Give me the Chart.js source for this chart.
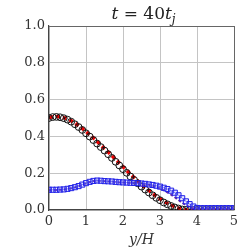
<!DOCTYPE html>
<html>
<head>
<meta charset="utf-8">
<script src="https://cdn.jsdelivr.net/npm/chart.js@4"></script>
<style>
  html, body { margin: 0; padding: 0; background: #fff; }
  #wrap { width: 249px; height: 249px; }
</style>
</head>
<body>
<div id="wrap"><canvas id="c"></canvas></div>
<script>
// y/H positions, step 0.1
const yH = [0.0,0.1,0.2,0.3,0.4,0.5,0.6,0.7,0.8,0.9,1.0,1.1,1.2,1.3,1.4,1.5,1.6,1.7,1.8,1.9,2.0,
  2.1,2.2,2.3,2.4,2.5,2.6,2.7,2.8,2.9,3.0,3.1,3.2,3.3,3.4,3.5,3.6,3.7,3.8,3.9,4.0,
  4.1,4.2,4.3,4.4,4.5,4.6,4.7,4.8,4.9,5.0];

// black open circles
const circleVals = [0.500,0.505,0.506,0.504,0.499,0.491,0.480,0.466,0.451,0.435,0.417,0.399,0.380,0.361,0.342,0.323,0.303,0.283,0.262,0.242,0.222,
  0.202,0.182,0.163,0.145,0.127,0.111,0.095,0.080,0.066,0.053,0.041,0.031,0.022,0.014,0.008,0.003,0.001,0.0,0.0,0.0,
  0.0,0.0,0.0,0.0,0.0,0.0,0.0,0.0,0.0,0.0];

// red dashed line
const redVals = [0.502,0.507,0.508,0.506,0.502,0.495,0.485,0.472,0.458,0.443,0.426,0.409,0.391,0.372,0.353,0.334,0.315,0.295,0.275,0.255,0.235,
  0.215,0.195,0.176,0.157,0.139,0.122,0.106,0.090,0.075,0.061,0.048,0.037,0.027,0.018,0.010,0.004,0.001,0.0,0.0,0.0,
  0.0,0.0,0.0,0.0,0.0,0.0,0.0,0.0,0.0,0.0];

// blue open squares
const squareVals = [0.110,0.110,0.110,0.111,0.112,0.115,0.119,0.124,0.130,0.138,0.146,0.153,0.158,0.160,0.159,0.157,0.156,0.155,0.153,0.151,0.150,
  0.149,0.148,0.147,0.146,0.144,0.142,0.139,0.136,0.132,0.127,0.121,0.114,0.105,0.094,0.080,0.064,0.047,0.032,0.019,0.011,
  0.010,0.010,0.010,0.010,0.010,0.010,0.010,0.010,0.010,0.010];

// purple dashed line
const purpleVals = [0.108,0.108,0.109,0.110,0.111,0.114,0.118,0.123,0.129,0.137,0.145,0.152,0.157,0.159,0.158,0.156,0.155,0.154,0.152,0.150,0.149,
  0.148,0.147,0.146,0.145,0.143,0.141,0.137,0.132,0.125,0.117,0.107,0.096,0.083,0.069,0.054,0.039,0.026,0.016,0.010,0.008,
  0.008,0.008,0.008,0.008,0.008,0.008,0.008,0.008,0.008,0.008];

const xTicks = [0, 1, 2, 3, 4, 5];
const yTicks = [0.0, 0.2, 0.4, 0.6, 0.8, 1.0];

const pts = vals => vals.map((v, i) => ({ x: yH[i], y: v }));
const serif = '"DejaVu Serif", "Liberation Serif", serif';

const titlePlugin = {
  id: 'mathTitle',
  afterDraw(chart) {
    const ctx = chart.ctx;
    const cx = (chart.chartArea.left + chart.chartArea.right) / 2 + 2;
    const base = 19;
    const parts = [
      { t: 't', f: 'italic 17px ' + serif, dy: 0 },
      { t: ' = 40', f: '17px ' + serif, dy: 0 },
      { t: 't', f: 'italic 17px ' + serif, dy: 0 },
      { t: 'j', f: 'italic 12px ' + serif, dy: 4 }
    ];
    ctx.save();
    ctx.fillStyle = '#222';
    ctx.textBaseline = 'alphabetic';
    let total = 0;
    parts.forEach(p => { ctx.font = p.f; p.w = ctx.measureText(p.t).width; total += p.w; });
    let x = cx - total / 2;
    parts.forEach(p => { ctx.font = p.f; ctx.fillText(p.t, x, base + p.dy); x += p.w; });
    ctx.restore();
  }
};

new Chart(document.getElementById('c'), {
  type: 'scatter',
  data: {
    datasets: [
      {
        label: 'squares',
        data: pts(squareVals),
        showLine: true,
        borderColor: 'rgba(40,40,230,0.6)',
        borderWidth: 1,
        pointStyle: 'rect',
        pointRadius: 3.6,
        pointBackgroundColor: 'rgba(150,150,255,0.2)',
        pointBorderColor: '#2020e8',
        pointBorderWidth: 1
      },
      {
        label: 'purple',
        data: pts(purpleVals),
        showLine: true,
        borderColor: '#6a2aa8',
        borderWidth: 2,
        borderDash: [3, 2],
        pointRadius: 0
      },
      {
        label: 'circles',
        data: pts(circleVals),
        showLine: false,
        pointStyle: 'circle',
        pointRadius: 3.4,
        pointBackgroundColor: 'rgba(0,0,0,0)',
        pointBorderColor: '#111',
        pointBorderWidth: 1
      },
      {
        label: 'red',
        data: pts(redVals),
        showLine: true,
        borderColor: '#ee0000',
        borderWidth: 3.5,
        borderDash: [4, 3],
        pointRadius: 0
      }
    ]
  },
  options: {
    responsive: true,
    maintainAspectRatio: false,
    animation: false,
    layout: { padding: { top: 26, right: 15, left: 0, bottom: 0 } },
    plugins: {
      legend: { display: false },
      tooltip: { enabled: false }
    },
    scales: {
      x: {
        type: 'linear',
        min: 0,
        max: 5,
        afterBuildTicks: axis => { axis.ticks = xTicks.map(v => ({ value: v })); },
        afterFit: axis => { axis.height = 39; },
        grid: {
          color: ctx => (ctx.tick && ctx.tick.value === 5) ? '#666' : '#c4c4c4',
          lineWidth: 1,
          drawTicks: false
        },
        border: { color: '#444', width: 1.2 },
        ticks: {
          padding: 4,
          color: '#333',
          font: { family: serif, size: 13 },
          callback: v => String(v)
        },
        title: {
          display: true,
          text: 'y/H',
          color: '#333',
          padding: { top: 0, bottom: 0 },
          font: { family: serif, size: 14, style: 'italic' }
        }
      },
      y: {
        type: 'linear',
        min: 0,
        max: 1,
        afterBuildTicks: axis => { axis.ticks = yTicks.map(v => ({ value: v })); },
        afterFit: axis => { axis.width = 49; },
        grid: {
          color: ctx => (ctx.tick && ctx.tick.value === 1) ? '#666' : '#c4c4c4',
          lineWidth: 1,
          drawTicks: false
        },
        border: { color: '#444', width: 1.2 },
        ticks: {
          padding: 4,
          color: '#333',
          font: { family: serif, size: 13 },
          callback: v => v.toFixed(1)
        }
      }
    }
  },
  plugins: [titlePlugin]
});
</script>
</body>
</html>
